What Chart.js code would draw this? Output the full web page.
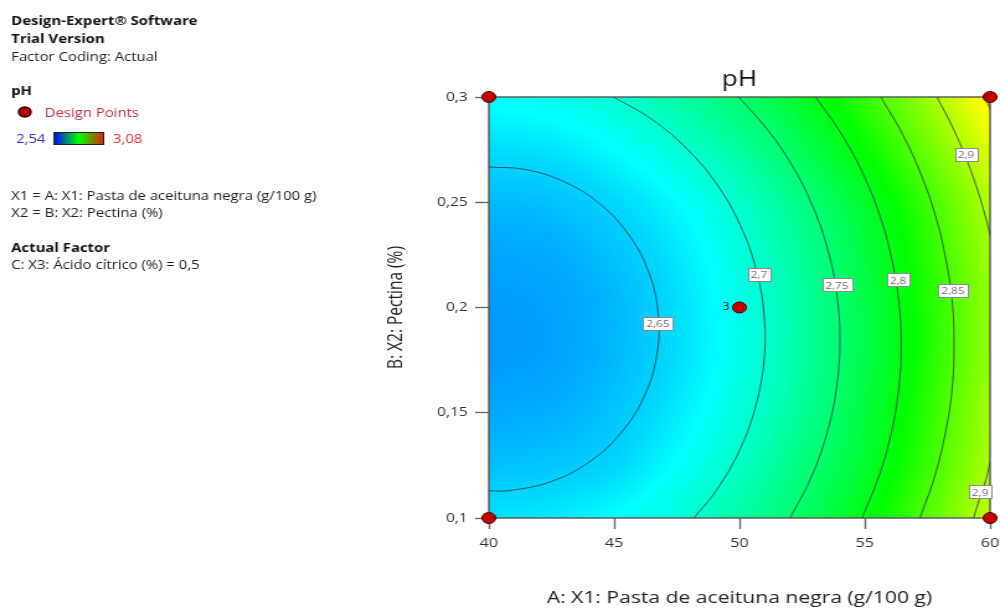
<!DOCTYPE html>
<html lang="es">
<head>
<meta charset="UTF-8">
<title>pH</title>
<style>
  body { margin: 0; background: #ffffff; overflow: hidden; }
  /* the original picture is stretched sideways, so the whole chart is too */
  .wrap { width: 806px; height: 610px; position: relative; transform: scaleX(1.2407); transform-origin: 0 0; }
</style>
</head>
<body>
<div class="wrap"><canvas id="plot"></canvas></div>
<script src="https://cdn.jsdelivr.net/npm/chart.js"></script>
<script>
// grid of pH, rows go with gridB (bottom to top)
const gridA = [40, 42.5, 45, 47.5, 50, 52.5, 55, 57.5, 60];
const gridB = [0.1, 0.125, 0.15, 0.175, 0.2, 0.225, 0.25, 0.275, 0.3];
const phGrid = [
  [2.661, 2.665, 2.676, 2.695, 2.724, 2.758, 2.802, 2.855, 2.916],
  [2.642, 2.645, 2.654, 2.677, 2.706, 2.744, 2.785, 2.840, 2.902],
  [2.630, 2.633, 2.644, 2.665, 2.694, 2.731, 2.778, 2.833, 2.897],
  [2.623, 2.626, 2.638, 2.658, 2.687, 2.725, 2.771, 2.826, 2.890],
  [2.623, 2.626, 2.637, 2.658, 2.687, 2.724, 2.771, 2.826, 2.890],
  [2.628, 2.631, 2.643, 2.663, 2.692, 2.730, 2.776, 2.831, 2.895],
  [2.639, 2.642, 2.654, 2.674, 2.703, 2.741, 2.787, 2.842, 2.906],
  [2.657, 2.661, 2.675, 2.697, 2.726, 2.765, 2.812, 2.868, 2.930],
  [2.680, 2.686, 2.700, 2.724, 2.752, 2.790, 2.838, 2.893, 2.955],
];
const phMin = 2.54;
const phMax = 3.08;

// contour lines [A, B]
const contour265 = [[40, 0.2667], [41.44, 0.2656], [43.05, 0.2595], [44.48, 0.2487], [45.62, 0.2339], [46.4, 0.2161],
  [46.76, 0.1965], [46.69, 0.1765], [46.18, 0.1573], [45.27, 0.1404], [44.03, 0.1268], [42.53, 0.1175],
  [40.88, 0.1131], [40, 0.1129]];
const contour270 = [[44.98, 0.3], [46.49, 0.2895], [47.91, 0.2753], [49.1, 0.2585], [50.02, 0.2394], [50.65, 0.2187],
  [50.98, 0.197], [50.98, 0.175], [50.65, 0.1533], [50.02, 0.1326], [49.1, 0.1135], [48.18, 0.1]];
const contour275 = [[49.97, 0.3], [51.13, 0.2843], [52.09, 0.2677], [52.9, 0.2487], [53.47, 0.2297], [53.86, 0.2083],
  [54.01, 0.1846], [53.86, 0.1608], [53.47, 0.1395], [52.85, 0.119], [52.02, 0.1]];
const contour280 = [[53.04, 0.3], [54.09, 0.282], [54.95, 0.263], [55.59, 0.244], [56.04, 0.225], [56.35, 0.2036],
  [56.45, 0.1822], [56.35, 0.1608], [56.04, 0.1395], [55.54, 0.119], [54.89, 0.1]];
const contour285 = [[55.64, 0.3], [56.52, 0.282], [57.25, 0.263], [57.81, 0.244], [58.2, 0.225], [58.48, 0.2036],
  [58.56, 0.1822], [58.48, 0.1608], [58.2, 0.1395], [57.77, 0.119], [57.2, 0.1]];
const contour290top = [[57.88, 0.3], [58.46, 0.2867], [58.99, 0.2724], [59.5, 0.2558], [59.85, 0.2416], [60, 0.2341]];
const contour290bottom = [[60, 0.1266], [59.83, 0.1181], [59.59, 0.1095], [59.34, 0.1]];
const contour295 = [[59.8, 0.3], [60, 0.2943]];

const labelText = ['2,65', '2,7', '2,75', '2,8', '2,85', '2,9', '2,9'];
const labelA = [46.75, 50.78, 53.89, 56.33, 58.52, 59.04, 59.6];
const labelB = [0.1926, 0.2159, 0.2107, 0.2131, 0.2083, 0.2729, 0.1124];

// design points
const pointsA = [40, 40, 60, 60, 50];
const pointsB = [0.1, 0.3, 0.1, 0.3, 0.2];
const pointsReps = [1, 1, 1, 1, 3];

const xTickValues = [40, 45, 50, 55, 60];
const xTickLabels = ['40', '45', '50', '55', '60'];
const yTickValues = [0.1, 0.15, 0.2, 0.25, 0.3];
const yTickLabels = ['0,1', '0,15', '0,2', '0,25', '0,3'];

const FONT = "'Open Sans', 'Noto Sans', sans-serif";
const lineColor = 'rgba(45, 70, 70, 0.85)';

const stops = [
  [0, [0, 0, 255]],
  [0.25, [0, 255, 255]],
  [0.5, [0, 255, 0]],
  [0.75, [255, 255, 0]],
  [1, [255, 0, 0]],
];

function colorFor(v) {
  let t = (v - phMin) / (phMax - phMin);
  t = Math.max(0, Math.min(1, t));
  for (let i = 0; i < stops.length - 1; i++) {
    const [t0, c0] = stops[i];
    const [t1, c1] = stops[i + 1];
    if (t <= t1) {
      const f = (t - t0) / (t1 - t0);
      return c0.map((c, k) => Math.round(c + (c1[k] - c) * f));
    }
  }
  return stops[stops.length - 1][1];
}

function findCell(arr, v) {
  let i = 0;
  while (i < arr.length - 2 && v > arr[i + 1]) i++;
  const f = Math.max(0, Math.min(1, (v - arr[i]) / (arr[i + 1] - arr[i])));
  return [i, f];
}

// smooth (catmull-rom) shading between the grid nodes
function cubic(p0, p1, p2, p3, t) {
  return p1 + 0.5 * t * (p2 - p0 + t * (2 * p0 - 5 * p1 + 4 * p2 - p3 + t * (3 * (p1 - p2) + p3 - p0)));
}

function node(row, k) {
  const n = row.length;
  if (k < 0) return 2 * row[0] - row[1];
  if (k >= n) return 2 * row[n - 1] - row[n - 2];
  return row[k];
}

function phAt(a, b) {
  const [i, fa] = findCell(gridA, a);
  const [j, fb] = findCell(gridB, b);
  const col = [];
  for (let r = j - 1; r <= j + 2; r++) {
    const row = r < 0 ? phGrid[0].map((v, k) => 2 * v - phGrid[1][k])
      : r >= phGrid.length ? phGrid[phGrid.length - 1].map((v, k) => 2 * v - phGrid[phGrid.length - 2][k])
      : phGrid[r];
    col.push(cubic(node(row, i - 1), node(row, i), node(row, i + 1), node(row, i + 2), fa));
  }
  return cubic(col[0], col[1], col[2], col[3], fb);
}

const heatmap = {
  id: 'heatmap',
  beforeDatasetsDraw(chart) {
    const { ctx, chartArea: area, scales } = chart;
    const w = Math.round(area.right - area.left);
    const h = Math.round(area.bottom - area.top);
    const off = document.createElement('canvas');
    off.width = w;
    off.height = h;
    const octx = off.getContext('2d');
    const img = octx.createImageData(w, h);
    for (let py = 0; py < h; py++) {
      const b = scales.y.getValueForPixel(area.top + py + 0.5);
      for (let px = 0; px < w; px++) {
        const a = scales.x.getValueForPixel(area.left + px + 0.5);
        const c = colorFor(phAt(a, b));
        const k = (py * w + px) * 4;
        img.data[k] = c[0];
        img.data[k + 1] = c[1];
        img.data[k + 2] = c[2];
        img.data[k + 3] = 255;
      }
    }
    octx.putImageData(img, 0, 0);
    ctx.save();
    ctx.drawImage(off, area.left, area.top);
    ctx.strokeStyle = '#555';
    ctx.lineWidth = 1.4;
    ctx.strokeRect(area.left, area.top, area.right - area.left, area.bottom - area.top);
    ctx.restore();
  },
  afterDatasetsDraw(chart) {
    const { ctx, scales } = chart;
    ctx.save();
    ctx.font = '9.5px ' + FONT;
    ctx.textAlign = 'center';
    ctx.textBaseline = 'middle';
    labelText.forEach((txt, i) => {
      const px = scales.x.getPixelForValue(labelA[i]);
      const py = scales.y.getPixelForValue(labelB[i]);
      const w = Math.round(ctx.measureText(txt).width + 5);
      const h = 13;
      const x0 = Math.round(px - w / 2);
      const y0 = Math.round(py - h / 2);
      ctx.fillStyle = '#ffffff';
      ctx.fillRect(x0, y0, w, h);
      ctx.strokeStyle = '#8c8c8c';
      ctx.lineWidth = 1;
      ctx.strokeRect(x0 + 0.5, y0 + 0.5, w, h);
      ctx.fillStyle = '#6e6e6e';
      ctx.fillText(txt, px, py + 1);
    });
    // replicate counts next to design points
    const meta = chart.getDatasetMeta(chart.data.datasets.length - 1);
    ctx.font = '10px ' + FONT;
    ctx.fillStyle = '#111';
    ctx.textAlign = 'right';
    meta.data.forEach((pt, i) => {
      if (pointsReps[i] > 1) ctx.fillText(String(pointsReps[i]), pt.x - 8, pt.y);
    });
    ctx.restore();
  },
};

const sidePanel = {
  id: 'sidePanel',
  afterDraw(chart) {
    const { ctx, chartArea: area } = chart;
    ctx.save();
    ctx.textBaseline = 'alphabetic';
    ctx.textAlign = 'left';
    const text = (s, x, y, font, color) => {
      ctx.font = font;
      ctx.fillStyle = color;
      ctx.fillText(s, x, y);
    };
    const bold = 'bold 12px ' + FONT;
    const normal = '12px ' + FONT;
    text('Design-Expert\u00ae Software', 9, 25, bold, '#111');
    text('Trial Version', 9, 43, bold, '#111');
    text('Factor Coding: Actual', 9, 61, normal, '#222');
    text('pH', 9, 95, bold, '#111');

    ctx.beginPath();
    ctx.arc(20, 112, 5, 0, Math.PI * 2);
    ctx.fillStyle = '#b00000';
    ctx.fill();
    ctx.lineWidth = 1.5;
    ctx.strokeStyle = '#3a0000';
    ctx.stroke();
    text('Design Points', 36, 117, normal, '#b4303e');

    text('2,54', 13, 143, normal, '#3434d8');
    const grad = ctx.createLinearGradient(43, 0, 84, 0);
    grad.addColorStop(0, '#0000ff');
    grad.addColorStop(0.5, '#00ff00');
    grad.addColorStop(1, '#e02000');
    ctx.fillStyle = grad;
    ctx.fillRect(43, 132, 41, 13);
    ctx.strokeStyle = '#222';
    ctx.lineWidth = 1;
    ctx.strokeRect(43.5, 132.5, 40, 12);
    text('3,08', 91, 143, normal, '#e0302c');

    text('X1 = A: X1: Pasta de aceituna negra (g/100 g)', 9, 200, normal, '#222');
    text('X2 = B: X2: Pectina (%)', 9, 217, normal, '#222');
    text('Actual Factor', 9, 252, bold, '#111');
    text('C: X3: \u00c1cido c\u00edtrico (%) = 0,5', 9, 269, normal, '#222');

    // chart title
    ctx.textAlign = 'center';
    ctx.textBaseline = 'middle';
    text('pH', (area.left + area.right) / 2, 80, '21px ' + FONT, '#111');
    ctx.restore();
  },
};

const contourSets = [contour265, contour270, contour275, contour280, contour285, contour290top, contour290bottom, contour295]
  .map((pts) => ({
    data: pts.map(([a, b]) => ({ x: a, y: b })),
    showLine: true,
    pointRadius: 0,
    borderColor: lineColor,
    borderWidth: 1,
    tension: 0.4,
    fill: false,
  }));

const designSet = {
  data: pointsA.map((a, i) => ({ x: a, y: pointsB[i] })),
  pointRadius: 5.5,
  pointHoverRadius: 5.5,
  backgroundColor: '#c00000',
  borderColor: '#4a0000',
  borderWidth: 1,
  showLine: false,
  clip: false,
};

new Chart(document.getElementById('plot'), {
  type: 'scatter',
  data: { datasets: [...contourSets, designSet] },
  plugins: [heatmap, sidePanel],
  options: {
    responsive: true,
    maintainAspectRatio: false,
    animation: false,
    layout: { padding: { left: 306, right: 8, top: 97, bottom: 0 } },
    plugins: {
      legend: { display: false },
      tooltip: { enabled: false },
      title: { display: false },
    },
    scales: {
      x: {
        type: 'linear',
        min: 40,
        max: 60,
        afterBuildTicks: (s) => { s.ticks = xTickValues.map((v) => ({ value: v })); },
        afterFit: (s) => { s.height = 92; s.paddingLeft = 0; s.paddingRight = 0; },
        ticks: {
          callback: (v, i) => xTickLabels[i],
          font: { family: FONT, size: 13 },
          color: '#333',
          padding: 6,
          maxRotation: 0,
        },
        grid: { drawOnChartArea: false, tickLength: 11, tickColor: '#666', tickWidth: 1.4 },
        border: { display: false },
        title: {
          display: true,
          text: 'A: X1: Pasta de aceituna negra (g/100 g)',
          font: { family: FONT, size: 17 },
          color: '#222',
          padding: { top: 0, bottom: 2 },
        },
      },
      y: {
        type: 'linear',
        min: 0.1,
        max: 0.3,
        afterBuildTicks: (s) => { s.ticks = yTickValues.map((v) => ({ value: v })); },
        afterFit: (s) => { s.width = 88; s.paddingTop = 0; s.paddingBottom = 0; },
        ticks: {
          callback: (v, i) => yTickLabels[i],
          font: { family: FONT, size: 12.5 },
          color: '#333',
          padding: 6,
        },
        grid: { drawOnChartArea: false, tickLength: 11, tickColor: '#666', tickWidth: 1.4 },
        border: { display: false },
        title: {
          display: true,
          text: 'B: X2: Pectina (%)',
          font: { family: FONT, size: 15.5 },
          color: '#222',
          padding: { top: 4, bottom: 0 },
        },
      },
    },
  },
});
</script>
</body>
</html>
